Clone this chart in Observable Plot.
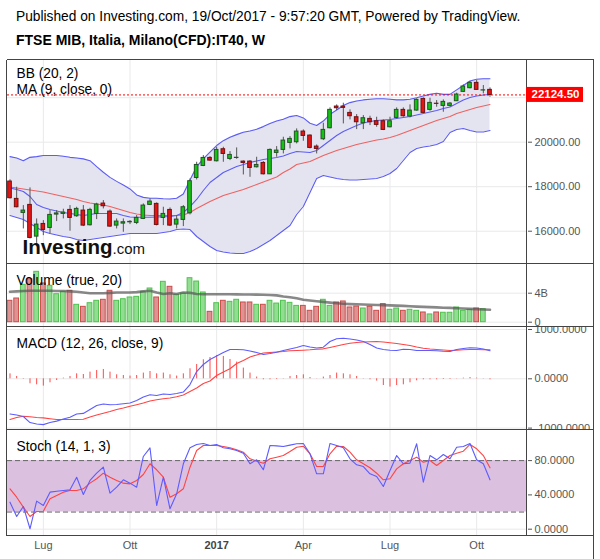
<!DOCTYPE html>
<html><head><meta charset="utf-8">
<script src="https://cdn.jsdelivr.net/npm/d3@7"></script>
<script src="https://cdn.jsdelivr.net/npm/@observablehq/plot@0.6"></script>
<style>
html,body{margin:0;padding:0;background:#fff;}
#root{position:relative;width:600px;height:559px;overflow:hidden;background:#fff;font-family:"Liberation Sans",Arial,sans-serif;}
</style></head>
<body><div id="root"></div>
<script>
// ---------- data (weekly bars, FTSE MIB CFD) ----------
const weeks = ["2016-05-30","2016-06-06","2016-06-13","2016-06-20","2016-06-27","2016-07-04","2016-07-11","2016-07-18","2016-07-25","2016-08-01","2016-08-08","2016-08-15","2016-08-22","2016-08-29","2016-09-05","2016-09-12","2016-09-19","2016-09-26","2016-10-03","2016-10-10","2016-10-17","2016-10-24","2016-10-31","2016-11-07","2016-11-14","2016-11-21","2016-11-28","2016-12-05","2016-12-12","2016-12-19","2016-12-26","2017-01-02","2017-01-09","2017-01-16","2017-01-23","2017-01-30","2017-02-06","2017-02-13","2017-02-20","2017-02-27","2017-03-06","2017-03-13","2017-03-20","2017-03-27","2017-04-03","2017-04-10","2017-04-17","2017-04-24","2017-05-01","2017-05-08","2017-05-15","2017-05-22","2017-05-29","2017-06-05","2017-06-12","2017-06-19","2017-06-26","2017-07-03","2017-07-10","2017-07-17","2017-07-24","2017-07-31","2017-08-07","2017-08-14","2017-08-21","2017-08-28","2017-09-04","2017-09-11","2017-09-18","2017-09-25","2017-10-02","2017-10-09","2017-10-16"];

const open = [18232,17452,16822,17182,15757,16327,16147,16747,16777,16957,16672,16927,16267,16777,17242,16882,16252,16342,16400,16372,16552,17182,17227,16597,16957,16297,16507,16807,18393,18933,19293,19143,19683,19248,19290,19128,19128,18873,19068,18558,19518,19653,19968,19998,20478,20298,19803,20133,20628,21602,21602,21317,21122,20852,21047,20942,20942,20672,21092,21452,21152,21422,21947,21452,21730,21632,21632,21842,22262,22427,22667,22322,22352];
const high = [18307,17977,17152,17947,16552,16477,16927,16927,16987,17152,17077,17152,17032,17257,17377,16957,16552,16552,16477,16702,17227,17452,17272,17077,17047,16702,17152,18352,19098,19398,19353,19773,19773,19578,19743,19160,19173,19323,19128,19698,19803,20223,20253,20598,20553,20328,19878,20853,21543,21677,21753,21452,21242,21197,21167,21122,21002,21122,21542,21542,21677,21947,21992,21977,21872,21902,21782,22202,22577,22727,22772,22547,22442];
const low = [17450,17050,16102,15650,15450,15800,15877,16432,16552,16000,16627,16207,16237,16522,17002,16177,16102,15952,16297,16297,16522,17152,16237,16252,16207,16102,16207,16732,18303,18903,19143,19113,19098,19173,19233,18528,18423,18843,18528,18543,19323,19473,19698,19923,20043,19698,19473,20073,20598,21422,20822,21002,20567,20567,20747,20672,20522,20642,21047,21122,21092,21392,21302,21392,21572,21347,21572,21827,22232,22397,22322,22172,22022];
const close = [17482,17077,16927,15697,16297,16057,16732,16800,16837,16597,17002,16252,16957,17197,17122,16207,16432,16402,16420,16597,17152,17332,16282,16777,16252,16522,17077,18247,18978,19293,19173,19653,19473,19428,19300,19068,18843,18978,18558,19653,19623,20073,20148,20478,20283,19743,19698,20553,21453,21527,21543,21167,20897,21077,20897,20777,20552,20942,21452,21167,21422,21902,21317,21767,21722,21812,21737,22142,22502,22667,22352,22332,22124.5];
const lastPrice = 22124.5;

const bbUpper = [19350,19290,19170,19320,19350,19400,19400,19400,19370,19320,19290,19250,19170,18900,18650,18420,18240,18080,17900,17630,17520,17480,17480,17460,17450,17480,17670,18300,18900,19250,19550,19850,20070,20220,20340,20450,20500,20580,20700,20840,20950,21030,21150,21200,21090,20850,20750,20950,21250,21450,21650,21780,21850,21900,21930,21950,21950,21930,21900,21900,21930,22000,22080,22150,22200,22150,22150,22350,22550,22750,22830,22850,22850];
const bbBasis = [17987,17942,17897,17852,17807,17762,17695,17627,17560,17492,17425,17335,17268,17223,17178,17110,17020,16931,16841,16773,16728,16706,16706,16706,16706,16706,16728,16841,17020,17178,17335,17470,17605,17695,17784,17874,17987,18099,18211,18324,18436,18638,18796,18998,19065,19133,19267,19402,19515,19627,19717,19807,19897,19964,20031,20099,20144,20211,20301,20413,20526,20638,20750,20863,20975,21065,21155,21290,21380,21470,21559,21627,21694];
const bbLower = [16706,16616,16526,16346,16166,15986,15896,15830,15762,15717,15627,15582,15627,15672,15717,15762,15807,15852,15896,15896,15896,15896,15896,15942,15986,16076,16099,16076,15762,15537,15312,15133,15066,15021,14998,14998,15088,15223,15402,15582,15807,16032,16256,16751,17110,17739,18368,18503,18436,18369,18324,18301,18301,18324,18346,18369,18459,18594,18818,19178,19537,19717,19784,19829,19897,20031,20436,20571,20616,20526,20458,20458,20526];
const ma9 = [17942,17874,17784,17560,17200,17064,16975,16908,16841,16796,16751,16706,16751,16796,16796,16796,16796,16706,16639,16630,16630,16630,16639,16648,16661,16706,16841,17110,17426,17829,18189,18414,18638,18773,18908,18998,19088,19155,19223,19267,19312,19380,19492,19583,19560,19537,19627,19852,20076,20301,20481,20616,20750,20863,20930,20975,20998,21020,21065,21110,21155,21222,21290,21357,21425,21515,21582,21739,21896,22009,22076,22121,22144];

// volume in billions (last, running week has no bar)
const volume = [2.95,3.27,5.16,5.93,6.95,5.34,5.02,3.86,4.19,4.33,2.40,2.12,2.62,2.95,3.09,4.33,2.95,3.17,3.41,3.50,4.19,4.65,3.41,5.57,4.88,3.78,3.96,6.07,5.61,4.1,1.43,2.62,2.95,2.81,3.09,2.72,2.72,2.40,2.40,2.95,2.57,2.95,2.67,2.25,2.25,1.57,2.12,3.09,2.25,2.72,2.86,2.03,2.16,1.89,2.12,1.57,2.49,1.71,1.89,1.57,1.71,1.57,1.34,1.07,1.34,1.30,1.30,2.03,1.57,1.71,1.89,1.80,null];
const volumeMA = [4.2,4.25,4.3,4.33,4.33,4.33,4.33,4.3,4.3,4.25,4.2,4.1,4.0,4.0,4.0,4.05,4.1,4.1,4.1,4.15,4.25,4.33,4.1,3.9,4.0,3.9,4.1,4.05,3.9,3.86,3.86,3.85,3.85,3.85,3.84,3.83,3.82,3.8,3.78,3.75,3.7,3.55,3.45,3.3,3.1,3.0,2.9,2.8,2.7,2.62,2.55,2.5,2.47,2.44,2.41,2.38,2.35,2.32,2.28,2.25,2.2,2.15,2.12,2.08,2.04,2.0,1.97,1.93,1.88,1.84,1.8,1.76,1.72];

const macdLine = [-713,-734,-765,-888,-918,-929,-888,-858,-817,-781,-713,-702,-621,-541,-510,-527,-521,-507,-491,-441,-369,-325,-339,-308,-318,-298,-268,-116,148,290,391,462,533,594,594,588,564,533,493,513,539,574,604,635,675,645,625,641,756,813,823,806,786,756,695,624,594,580,574,598,594,574,574,574,570,560,554,594,615,629,625,604,568];
const signalLine = [-825,-785,-761,-771,-785,-793,-810,-825,-825,-825,-825,-821,-775,-734,-698,-663,-623,-593,-558,-525,-491,-450,-426,-406,-389,-365,-329,-258,-187,-95,-45,67,138,203,310,371,442,483,523,533,544,554,568,574,580,588,600,608,635,665,696,720,736,746,753,757,746,732,716,696,675,645,619,604,594,584,574,580,588,594,594,590,588];
const histogram = [100,47,-10,-101,-122,-148,-81,-35,14,47,101,87,136,168,189,136,81,67,55,67,116,148,101,116,81,55,101,203,290,386,432,473,453,392,339,217,116,35,-20,-20,-14,6,47,67,81,26,3,35,67,116,101,81,47,6,-20,-47,-136,-168,-136,-122,-81,-41,-20,-20,-20,-14,-14,-5,14,26,14,5,-20];

const stochK = [31.5,14.8,26.5,0.5,32.7,27.6,43.2,44.3,45.1,45.9,60.6,40.5,56.8,65.3,72.3,42,49,57.6,53.7,49,84.8,94.9,27.6,60.6,23.8,41.3,76.3,94.9,98.8,100,97.6,98.8,94.9,93.8,91.8,88.6,76.3,80.9,69.3,97.6,97.2,96.4,98,99.6,100,87.9,64.6,64.6,100,97.6,94.9,82.1,75.1,73.1,64.6,61.5,49.8,68.5,85.9,76.3,77,99.6,54.8,85.9,80.9,87.1,82.1,95.6,96.4,100,80.9,76.3,57.6];
const stochD = [47.1,37.3,25.7,14.8,20.6,21,35.4,39.3,43.2,45.1,45.1,47.1,53.7,58.8,65.3,60.6,56.8,53.7,52.9,56.8,63.8,76.3,69.3,60.6,37.3,41.3,47.1,72.3,91.8,97.6,97.6,97.6,96.4,94.9,92.6,89.8,82.1,79.3,77,82.1,84,85.9,90.6,95.6,96.8,87.9,73.1,73.1,87.9,96.8,96.4,89.8,80.9,76.3,71.6,65.3,57.6,58.8,70.4,76.3,80.1,84,78.1,80.1,74.3,80.1,85.9,88.6,91,98.8,93.8,85.9,71.6];

const tickWeeks = ["2016-07-04","2016-10-03","2017-01-02","2017-04-03","2017-07-03","2017-10-02"];
const tickLabels = ["Lug","Ott","2017","Apr","Lug","Ott"];
const priceTicks = [16000,18000,20000];
const priceGrid = [16000,18000,20000,22000];
const volumeTicks = [0,4];
const macdTicks = [-1000,0,1000];
const stochTicks = [0,40,80];
const stochBand = [20,80];

// ---------- build ----------
const FONT = "Liberation Sans, Arial, sans-serif";
const DAY = 864e5;
const root = document.getElementById("root");
const rows = weeks.map((w,i)=>({
  date:new Date(w+"T00:00:00Z"), open:open[i], high:high[i], low:low[i], close:close[i],
  vol:volume[i], volMA:volumeMA[i], upper:bbUpper[i], basis:bbBasis[i], lower:bbLower[i], ma9:ma9[i],
  macd:macdLine[i], signal:signalLine[i], hist:histogram[i], k:stochK[i], d:stochD[i]
}));
const up = d => d.close >= d.open;
const ticks = tickWeeks.map((w,i)=>({date:new Date(w+"T00:00:00Z"), label:tickLabels[i]}));
const tickDates = ticks.map(t=>t.date);
const xDomain = [new Date("2016-05-27T09:00:00Z"), new Date("2017-11-24T09:00:00Z")];
const grid = {stroke:"#e9e9e9", strokeOpacity:1};

function panel(top, height, marginBottom, yDomain, marks){
  const div = document.createElement("div");
  div.style.cssText = `position:absolute;left:0;top:${top}px;width:600px;height:${height}px;overflow:hidden`;
  const chart = Plot.plot({
    width:600, height, marginLeft:7, marginRight:73, marginTop:0, marginBottom,
    x:{type:"utc", domain:xDomain, axis:null},
    y:{domain:yDomain, axis:null},
    style:{background:"transparent", fontFamily:FONT, overflow:"visible"},
    marks
  });
  div.appendChild(chart);
  root.appendChild(div);
  return chart;
}
const yAxis = (t, fmt) => Plot.axisY({anchor:"right", ticks:t, tickFormat:fmt, tickSize:4, tickPadding:3, fontSize:11, color:"#555", label:null});
const half = days => ({x1:d=>new Date(+d.date - days*DAY), x2:d=>new Date(+d.date + days*DAY)});

// price panel
const priceChart = panel(60, 203, 0, [14548.7, 23671.6], [
  Plot.gridX(tickDates, grid),
  Plot.gridY(priceGrid, grid),
  Plot.areaY(rows, {x:"date", y1:"lower", y2:"upper", fill:"#e4e4f0"}),
  Plot.lineY(rows, {x:"date", y:"upper", stroke:"#5c5cf5", strokeWidth:1.1}),
  Plot.lineY(rows, {x:"date", y:"lower", stroke:"#5c5cf5", strokeWidth:1.1}),
  Plot.lineY(rows, {x:"date", y:"basis", stroke:"#ee6262", strokeWidth:1.1}),
  Plot.lineY(rows, {x:"date", y:"ma9", stroke:"#5c5cf5", strokeWidth:1.1}),
  Plot.ruleY([lastPrice], {stroke:"#ff0000", strokeDasharray:"2,2"}),
  Plot.ruleX(rows, {x:"date", y1:"low", y2:"high", stroke:"#555"}),
  Plot.rect(rows.filter(up), {...half(1.9), y1:"open", y2:"close", fill:"#12c412", stroke:"#245224"}),
  Plot.rect(rows.filter(d=>!up(d)), {...half(1.9), y1:"open", y2:"close", fill:"#e81414", stroke:"#6e1010"}),
  yAxis(priceTicks, d=>d.toFixed(2))
]);

// volume panel
panel(263, 63, 0, [-0.593, 8.097], [
  Plot.gridX(tickDates, grid),
  Plot.gridY(volumeTicks, grid),
  Plot.rect(rows.filter(d=>d.vol!=null && up(d)), {...half(2.5), y1:0, y2:"vol", fill:"#93dd93", stroke:"#4fc14f"}),
  Plot.rect(rows.filter(d=>d.vol!=null && !up(d)), {...half(2.5), y1:0, y2:"vol", fill:"#de9393", stroke:"#cc4b4b"}),
  Plot.lineY(rows, {x:"date", y:"volMA", stroke:"#555", strokeOpacity:0.7, strokeWidth:2.6}),
  yAxis(volumeTicks, d=> d===0 ? "0" : d+"B")
]);

// MACD panel
panel(326, 104, 0, [-1048.7, 1060.9], [
  Plot.gridX(tickDates, grid),
  Plot.gridY(macdTicks, grid),
  Plot.ruleX(rows, {x:"date", y1:0, y2:"hist", stroke:"#ff4a4a"}),
  Plot.lineY(rows, {x:"date", y:"signal", stroke:"#ff4444", strokeWidth:1.1}),
  Plot.lineY(rows, {x:"date", y:"macd", stroke:"#5c5cff", strokeWidth:1.1}),
  yAxis(macdTicks, d=>d.toFixed(4))
]);

// Stoch panel (with time labels below)
panel(430, 129, 24, [-7.35, 115.1], [
  Plot.gridX(tickDates, grid),
  Plot.gridY(stochTicks, grid),
  Plot.rect([stochBand], {x1:()=>xDomain[0], x2:()=>xDomain[1], y1:d=>d[0], y2:d=>d[1], fill:"#dcc0e0"}),
  Plot.ruleY(stochBand, {stroke:"#666", strokeDasharray:"5,3"}),
  Plot.lineY(rows, {x:"date", y:"d", stroke:"#ff4444", strokeWidth:1.1}),
  Plot.lineY(rows, {x:"date", y:"k", stroke:"#5c5cff", strokeWidth:1.1}),
  yAxis(stochTicks, d=>d.toFixed(4)),
  Plot.text(ticks.filter(t=>t.label!=="2017"), {x:"date", text:"label", frameAnchor:"bottom", dy:13, fontSize:11, fill:"#555"}),
  Plot.text(ticks.filter(t=>t.label==="2017"), {x:"date", text:"label", frameAnchor:"bottom", dy:13, fontSize:11, fill:"#444", fontWeight:"bold"})
]);

// overlay: titles, indicator labels, frame, last price marker
const yLast = 60 + priceChart.scale("y").apply(lastPrice);
const NS = "http://www.w3.org/2000/svg";
const ov = document.createElementNS(NS, "svg");
ov.setAttribute("width", 600); ov.setAttribute("height", 559);
ov.style.cssText = "position:absolute;left:0;top:0;";
ov.innerHTML = `
<g font-family="${FONT}" fill="#000">
  <text x="16" y="21" font-size="13.75">Published on Investing.com, 19/Oct/2017 - 9:57:20 GMT, Powered by TradingView.</text>
  <text x="16" y="44.5" font-size="14" font-weight="bold">FTSE MIB, Italia, Milano(CFD):IT40, W</text>
  <text x="16.5" y="77.5" font-size="13.75">BB (20, 2)</text>
  <text x="16.5" y="94.3" font-size="13.75">MA (9, close, 0)</text>
  <text x="16.5" y="284.5" font-size="13.75">Volume (true, 20)</text>
  <text x="16.5" y="347.5" font-size="13.75">MACD (12, 26, close, 9)</text>
  <text x="16.5" y="451" font-size="13.75">Stoch (14, 1, 3)</text>
  <text x="22.5" y="253.5" fill="#111"><tspan font-size="20.5" font-weight="bold">Investing</tspan><tspan font-size="15">.com</tspan></text>
</g>
<g stroke="#444" stroke-width="1" fill="none" shape-rendering="crispEdges">
  <line x1="6.5" y1="59.5" x2="593.5" y2="59.5"/>
  <line x1="6.5" y1="59.5" x2="6.5" y2="535.5"/>
  <line x1="593.5" y1="59.5" x2="593.5" y2="559"/>
  <line x1="526.5" y1="59.5" x2="526.5" y2="535.5"/>
  <line x1="6.5" y1="263.5" x2="593.5" y2="263.5"/>
  <line x1="6.5" y1="326.5" x2="593.5" y2="326.5"/>
  <line x1="6.5" y1="429.5" x2="593.5" y2="429.5"/>
  <line x1="6.5" y1="535.5" x2="593.5" y2="535.5"/>
</g>
<rect x="526" y="${yLast-7.5}" width="57" height="15" fill="#ff0000"/>
<text x="531.5" y="${yLast+4}" font-family="${FONT}" font-size="11.5" font-weight="bold" fill="#fff">${lastPrice.toFixed(2)}</text>
`;
root.appendChild(ov);
</script>
</body></html>
